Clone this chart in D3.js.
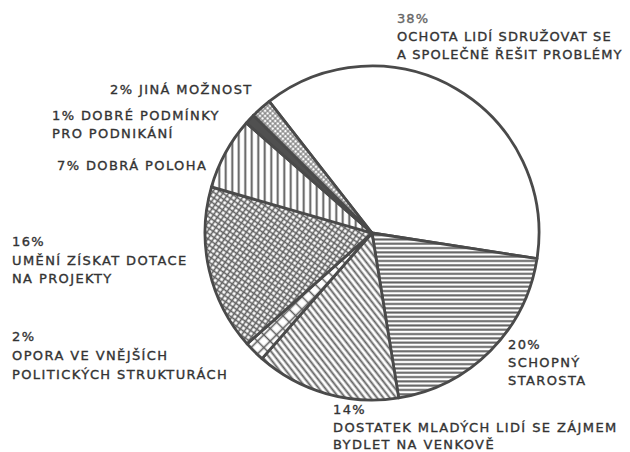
<!DOCTYPE html>
<html>
<head>
<meta charset="utf-8">
<script src="https://cdn.jsdelivr.net/npm/d3@7"></script>
<style>
	body { margin: 0; background: #fff; }
	svg { display: block; }
	.lbl { font-family: "DejaVu Sans", sans-serif; font-size: 13px; letter-spacing: 1.4px; fill: #333; stroke: #333; stroke-width: 0.35px; }
</style>
</head>
<body>
<svg id="chart" width="630" height="452"></svg>
<script>
// slices, clockwise from the top-left
const categories = [
	"Ochota lidí sdružovat se a společně řešit problémy",
	"Schopný starosta",
	"Dostatek mladých lidí se zájmem bydlet na venkově",
	"Opora ve vnějších politických strukturách",
	"Umění získat dotace na projekty",
	"Dobrá poloha",
	"Dobré podmínky pro podnikání",
	"Jiná možnost"
];
const values = [38, 20, 14, 2, 16, 7, 1, 2];

// label text as printed in the chart
const labelLines = [
	["38%", "OCHOTA LIDÍ SDRUŽOVAT SE", "A SPOLEČNĚ ŘEŠIT PROBLÉMY"],
	["20%", "SCHOPNÝ", "STAROSTA"],
	["14%", "DOSTATEK MLADÝCH LIDÍ SE ZÁJMEM", "BYDLET NA VENKOVĚ"],
	["2%", "OPORA VE VNĚJŠÍCH", "POLITICKÝCH STRUKTURÁCH"],
	["16%", "UMĚNÍ ZÍSKAT DOTACE", "NA PROJEKTY"],
	["7% DOBRÁ POLOHA"],
	["1% DOBRÉ PODMÍNKY", "PRO PODNIKÁNÍ"],
	["2% JINÁ MOŽNOST"]
];

// where each label block starts (x, first baseline, line step)
const labelPos = [
	[397, 23, 18],
	[508, 349, 18],
	[333, 414, 17.5],
	[12, 341, 19],
	[12, 246, 18.5],
	[57, 170, 18],
	[52, 120, 17.5],
	[110, 94, 18]
];

const svg = d3.select("#chart");
const cx = 372, cy = 233, radius = 167;
const deg = Math.PI / 180;

// hatch patterns, one per slice
const defs = svg.append("defs");
function hatch(id, size, angles, color, width, rot) {
	const p = defs.append("pattern")
		.attr("id", id)
		.attr("patternUnits", "userSpaceOnUse")
		.attr("patternTransform", `rotate(${rot})`)
		.attr("width", size).attr("height", size);
	p.append("rect").attr("width", size).attr("height", size).attr("fill", "#fff");
	angles.forEach(a => {
		const g = p.append("g").attr("transform", `rotate(${a} ${size / 2} ${size / 2})`);
		for (let k = -2; k <= 2; k++) {
			g.append("line")
				.attr("x1", -size * 2).attr("x2", size * 3)
				.attr("y1", size / 2 + k * size).attr("y2", size / 2 + k * size)
				.attr("stroke", color).attr("stroke-width", width);
		}
	});
	return "url(#" + id + ")";
}

const fills = [
	"#fff",
	hatch("horiz", 4.3, [0], "#606060", 2, 0),
	hatch("diag", 5, [0], "#606060", 1.9, 52),
	hatch("bigx", 9, [0, 90], "#5c5c5c", 1.6, 45),
	hatch("finex", 4.6, [0, 90], "#626262", 1.6, 35),
	hatch("vert", 6.5, [0], "#555", 1.8, 90),
	"#505050",
	hatch("smallx", 3.6, [0, 90], "#7a7a7a", 1.1, 45)
];

const pie = d3.pie().sort(null).value(d => d)
	.startAngle(-38 * deg).endAngle(322 * deg);
const arc = d3.arc().innerRadius(0).outerRadius(radius);

const plot = svg.append("g").attr("transform", `translate(${cx},${cy})`);
plot.selectAll("path.slice")
	.data(pie(values))
	.join("path")
	.attr("class", "slice")
	.attr("d", arc)
	.attr("fill", (d, i) => fills[i])
	.attr("stroke", "#4a4a4a")
	.attr("stroke-width", 2.8)
	.attr("stroke-linejoin", "round");

// labels
labelLines.forEach((lines, i) => {
	const [x, y, step] = labelPos[i];
	const t = svg.append("text").attr("class", "lbl");
	if (i === 0) t.style("letter-spacing", "1.1px");
	lines.forEach((s, j) => {
		const ts = t.append("tspan").attr("x", x).attr("y", y + j * step).text(s);
		if (i === 0 && j === 0) ts.style("fill", "#666").style("stroke", "#666");
	});
});
</script>
</body>
</html>
